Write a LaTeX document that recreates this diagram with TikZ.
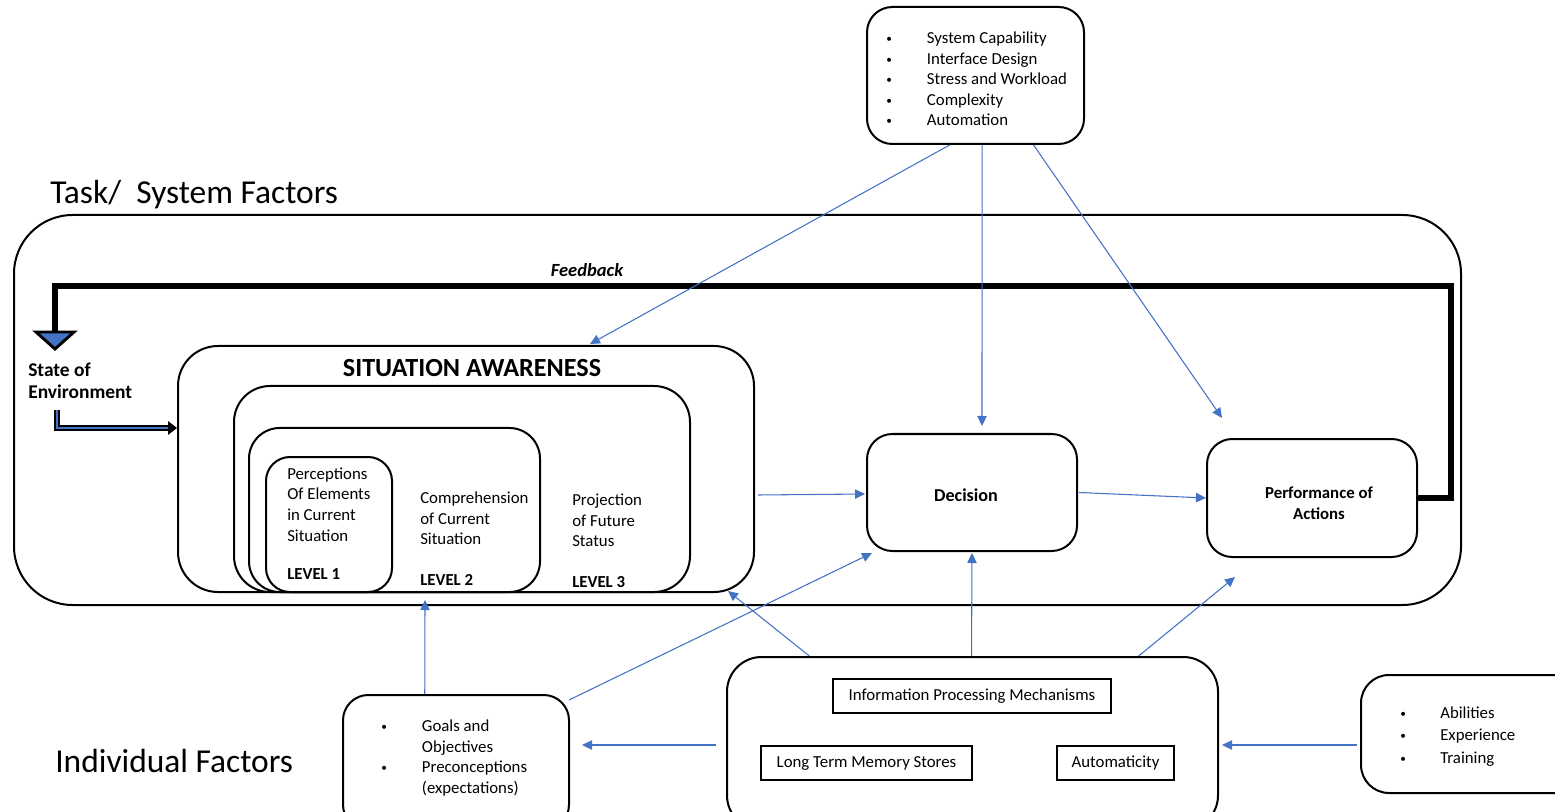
\documentclass[tikz,border=0pt]{standalone}
\usepackage{fontspec}
\setmainfont{Carlito}
\usetikzlibrary{arrows.meta,fit,calc}
\definecolor{linkblue}{HTML}{4472C4}
\newcommand\listdot[1]{\makebox[#1][l]{\hspace*{1.5pt}\raisebox{0.15ex}{\fontsize{8.5}{9}\selectfont\textbullet}}}

\begin{document}
\begin{tikzpicture}[
  x=0.75pt, y=-0.75pt,
  rbox/.style={draw, line width=1.5pt, inner sep=0pt},
  plainbox/.style={draw, line width=1.1pt, inner sep=0pt},
  link/.style={draw=linkblue, line width=0.8pt, -{Triangle[length=7.5pt,width=7pt]}},
  body/.style={font=\fontsize{12.6}{15.4}\selectfont, inner sep=0pt, align=left},
  boldtxt/.style={font=\fontsize{12.6}{15.4}\selectfont\bfseries, inner sep=0pt, align=center},
  bigtxt/.style={font=\fontsize{25.1}{29}\selectfont, inner sep=0pt},
  feedline/.style={line width=4.5pt, line join=miter},
]
\clip (0,0) rectangle (1555,812);
\fill[white] (0,0) rectangle (1555,812);

% ---- task / system factor list ----
\node[rbox, rounded corners=19pt, fit={(867,7) (1084,144)}] (task) {};
\node[body, anchor=west] (tasklist) at (884,79) {%
  \listdot{32pt}System Capability\\
  \listdot{32pt}Interface Design\\
  \listdot{32pt}Stress and Workload\\
  \listdot{32pt}Complexity\\
  \listdot{32pt}Automation};

\node[bigtxt, anchor=west] (tasklbl) at (50,195) {Task/\ \ System Factors};

% ---- environment frame ----
\node[rbox, rounded corners=44pt, fit={(14,215) (1461,605)}] (env) {};

% ---- situation awareness nest ----
\node[rbox, rounded corners=30pt, fit={(178,346) (754,592)}] (sa) {};
\node[rbox, rounded corners=27pt, fit={(234,386) (690,592)}] (sa2) {};
\node[rbox, rounded corners=23pt, fit={(249,428) (540,592)}] (sa3) {};
\node[rbox, rounded corners=18pt, fit={(266,457) (392,592)}] (sa4) {};

\node[font=\fontsize{19.6}{22}\selectfont\bfseries, inner sep=0pt] (satitle) at (472,368) {SITUATION AWARENESS};

\node[body, anchor=west] (perc) at (287,504.5) {Perceptions\\Of Elements\\in Current\\Situation};
\node[boldtxt, anchor=west] (lv1) at (287,574) {LEVEL 1};
\node[body, anchor=west] (comp) at (420,518.5) {Comprehension\\of Current\\Situation};
\node[boldtxt, anchor=west] (lv2) at (420,580) {LEVEL 2};
\node[body, anchor=west] (proj) at (572,520.5) {Projection\\of Future\\Status};
\node[boldtxt, anchor=west] (lv3) at (572,582) {LEVEL 3};

% ---- decision and action ----
\node[rbox, rounded corners=19pt, fit={(867,434) (1077,551)}] (dec) {};
\node[font=\fontsize{13.6}{16}\selectfont\bfseries, inner sep=0pt] (declbl) at ($(dec.center)+(-6,3)$) {Decision};
\node[rbox, rounded corners=19pt, fit={(1207,439) (1417,557)}] (perf) {};
\node[boldtxt] (perflbl) at ($(perf.center)+(7,5)$) {Performance of\\Actions};

% ---- feedback loop ----
\coordinate (fbcorner) at (55,286);
\coordinate (fbbase) at (55,332);
\draw[feedline] (perf.east) -- ++(33,0) |- (fbcorner) -- (fbbase);
\filldraw[draw=black, fill=linkblue, line width=2.2pt, line join=miter]
  ($(fbbase)+(-19,0)$) -- ($(fbbase)+(19,0)$) -- ($(fbbase)+(0,17)$) -- cycle;
\node[font=\fontsize{13.9}{16}\selectfont\bfseries\itshape, inner sep=0pt] (fblbl) at (587,270) {Feedback};

\node[font=\fontsize{14.6}{16.5}\selectfont\bfseries, align=left, inner sep=0pt, anchor=west] (state) at (28,381) {State of\\Environment};

% state of environment feeds situation awareness
\coordinate (stTop) at (57,410);
\coordinate (stEnd) at (169,428);
\coordinate (stTip) at (177,428);
\draw[line width=1.9pt, double=linkblue, double distance=0.9pt] (stTop) |- (stEnd);
\fill ($(stEnd)+(-1,-7)$) -- (stTip) -- ($(stEnd)+(-1,7)$) -- cycle;

% ---- individual factors ----
\node[bigtxt, anchor=west] (indlbl) at (55,761) {Individual Factors};

\node[rbox, rounded corners=19pt, fit={(343,695) (569,830)}] (goals) {};
\node[body, anchor=west] (goallist) at (379,758) {%
  \listdot{32pt}Goals and\\
  \hspace*{32pt}Objectives\\
  \listdot{32pt}Preconceptions\\
  \hspace*{32pt}(expectations)};

\node[rbox, rounded corners=26pt, fit={(727,657) (1218,830)}] (ipm) {};
\node[plainbox, fit={(833,679) (1111,713)}, label={[body]center:Information Processing Mechanisms}] (ipmech) {};
\node[plainbox, fit={(761,746) (972,780)}, label={[body]center:Long Term Memory Stores}] (ltm) {};
\node[plainbox, fit={(1057,746) (1174,780)}, label={[body]center:Automaticity}] (auto) {};

\node[rbox, rounded corners=21pt, fit={(1361,675) (1590,793)}] (abil) {};
\node[body, anchor=west, font=\fontsize{12.6}{17}\selectfont] (abillist) at (1398,736.5) {%
  \listdot{31.5pt}Abilities\\
  \listdot{31.5pt}Experience\\
  \listdot{31.5pt}Training};

% ---- influence connectors ----
\coordinate (saTopIn) at (590,344);
\coordinate (decTopIn) at (982,426);
\coordinate (perfTopIn) at (1222,418);
\coordinate (saRightOut) at (758,495);
\coordinate (decLeftIn) at (865,494);
\coordinate (perfLeftIn) at (1206,498);
\coordinate (saBotIn) at (425,600);
\coordinate (goalsCorner) at (569,700);
\coordinate (decBotLeftIn) at (872,553);
\coordinate (saBotRightIn) at (728,591);
\coordinate (decBotIn) at (972,553);
\coordinate (perfBotIn) at (1235,577);
\coordinate (ipmLeftOut) at (716,745);
\coordinate (goalsRightIn) at (582,745);
\coordinate (abilLeftOut) at (1357,745);
\coordinate (ipmRightIn) at (1222,745);

\draw[link] ($(task.south west)!0.382!(task.south east)$) -- (saTopIn);
\draw[link] ($(task.south west)!0.530!(task.south east)$) -- (decTopIn);
\draw[link] ($(task.south west)!0.765!(task.south east)$) -- (perfTopIn);
\draw[link] (saRightOut) -- (decLeftIn);
\draw[link] ($(dec.east)+(1,0)$) -- (perfLeftIn);
\draw[link] ($(goals.north west)!0.363!(goals.north east)$) -- (saBotIn);
\draw[link] (goalsCorner) -- (decBotLeftIn);
\draw[link] ($(ipm.north west)!0.169!(ipm.north east)$) -- (saBotRightIn);
\draw[link] ($(ipm.north west)!0.498!(ipm.north east)$) -- (decBotIn);
\draw[link] ($(ipm.north west)!0.837!(ipm.north east)$) -- (perfBotIn);
\draw[link] (ipmLeftOut) -- (goalsRightIn);
\draw[link] (abilLeftOut) -- (ipmRightIn);
\end{tikzpicture}
\end{document}
